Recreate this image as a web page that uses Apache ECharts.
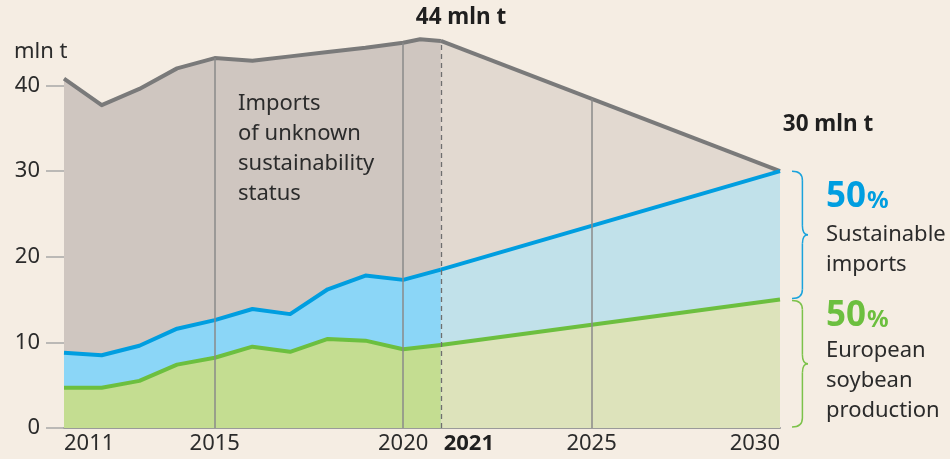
<!DOCTYPE html>
<html>
<head>
<meta charset="utf-8">
<title>Soybean imports</title>
<script src="https://cdn.jsdelivr.net/npm/echarts/dist/echarts.min.js"></script>
<style>
  html, body { margin: 0; padding: 0; background: #f5ede3; }
  #box { width: 950px; height: 459px; }
</style>
</head>
<body>
<div id="box"></div>
<script>
// historical years
var years = [2011, 2012, 2013, 2014, 2015, 2016, 2017, 2018, 2019, 2020, 2021];
// total imports + production (top grey line), includes the small peak before 2021
var topYears = [2011, 2012, 2013, 2014, 2015, 2016, 2017, 2018, 2019, 2020, 2020.45, 2021];
var topHist = [40.8, 37.7, 39.6, 42.0, 43.2, 42.9, 43.4, 43.9, 44.4, 45.0, 45.4, 45.2];
var blueHist = [8.8, 8.5, 9.6, 11.6, 12.6, 13.9, 13.3, 16.2, 17.8, 17.3, 18.5];
var greenHist = [4.7, 4.7, 5.5, 7.4, 8.2, 9.5, 8.9, 10.4, 10.2, 9.2, 9.7];
// projection
var projYears = [2021, 2030];
var topProj = [45.2, 30];
var blueProj = [18.5, 30];
var greenProj = [9.7, 15];

var xTicks = [2011, 2015, 2020, 2021, 2025, 2030];
var yTicks = [0, 10, 20, 30, 40];
var guideYears = [2015, 2020, 2025];

var FONT = 'Noto Sans';

function pairs(xs, ys) {
    return xs.map(function (x, i) { return [x, ys[i]]; });
}

var topAll = pairs(topYears, topHist).concat(pairs(projYears, topProj).slice(1));
// height of the grey line at a given year (for the vertical guides)
function topAt(yr) {
    for (var i = 0; i < topAll.length - 1; i++) {
        var a = topAll[i], b = topAll[i + 1];
        if (yr >= a[0] && yr <= b[0]) {
            return a[1] + (b[1] - a[1]) * (yr - a[0]) / (b[0] - a[0]);
        }
    }
    return 0;
}

function areaSeries(data, lineColor, fill, z) {
    return {
        type: 'line',
        data: data,
        symbol: 'none',
        z: z,
        silent: true,
        lineStyle: { color: lineColor, width: 4, join: 'round' },
        areaStyle: { color: fill, opacity: 1, origin: 'start' }
    };
}

var grey = '#7a7a7a', blue = '#009ee0', green = '#6cbf3f';

var guideLines = guideYears.map(function (yr) {
    return [{ coord: [yr, 0] }, { coord: [yr, topAt(yr)] }];
});
guideLines.push([
    { coord: [2021, 0], lineStyle: { type: [5, 4], color: '#6f6f6f', width: 1.3 } },
    { coord: [2021, topAt(2021)] }
]);

var myChart = echarts.init(document.getElementById('box'));
var option = {
    backgroundColor: '#f5ede3',
    animation: false,
    textStyle: { fontFamily: FONT },
    grid: { left: 64, right: 170, top: 17, bottom: 31 },
    xAxis: {
        type: 'value',
        min: 2011,
        max: 2030,
        splitLine: { show: false },
        axisTick: { show: false },
        axisLine: { lineStyle: { color: '#9a9a9a', width: 2 } },
        axisLabel: {
            customValues: xTicks,
            color: '#2b2b2b',
            fontSize: 22,
            fontFamily: FONT,
            margin: 5,
            alignMinLabel: 'left',
            alignMaxLabel: 'right',
            formatter: function (v) {
                return v === 2021 ? '{b|2021}' : String(v);
            },
            rich: {
                b: { fontWeight: 'bold', fontSize: 22, color: '#1f1f1f', padding: [0, 0, 0, 56], fontFamily: FONT }
            }
        }
    },
    yAxis: {
        type: 'value',
        min: 0,
        max: 48,
        splitLine: { show: false },
        axisLine: { show: false },
        axisTick: { show: true, customValues: yTicks, length: 18, lineStyle: { color: '#a8a8a8', width: 1.5 } },
        axisLabel: { customValues: yTicks, color: '#2b2b2b', fontSize: 22, fontFamily: FONT, margin: 24 }
    },
    series: [
        areaSeries(pairs(topYears, topHist), grey, '#cfc6c0', 2),
        areaSeries(pairs(projYears, topProj), grey, '#e2d9d0', 2),
        areaSeries(pairs(years, blueHist), blue, '#8bd6f7', 3),
        areaSeries(pairs(projYears, blueProj), blue, '#c1e1ea', 3),
        areaSeries(pairs(years, greenHist), green, '#c4dd91', 4),
        areaSeries(pairs(projYears, greenProj), green, '#dde3bb', 4),
        {
            type: 'line',
            data: [],
            silent: true,
            markLine: {
                silent: true,
                symbol: 'none',
                label: { show: false },
                lineStyle: { color: '#8a8a8a', width: 1.5, type: 'solid' },
                data: guideLines
            }
        }
    ]
};
myChart.setOption(option);

// curly brace built from quadratic curves and straight lines
function brace(x, y1, y2, w, color) {
    var m = (y1 + y2) / 2, c = x + w * 0.65, r = 9;
    var st = { stroke: color, lineWidth: 1.5, fill: null };
    function curve(x1, yy1, cx, cy, x2, yy2) {
        return { type: 'bezierCurve', silent: true, z: 100, style: st,
                 shape: { x1: x1, y1: yy1, cpx1: cx, cpy1: cy, x2: x2, y2: yy2 } };
    }
    function line(yy1, yy2) {
        return { type: 'line', silent: true, z: 100, style: st,
                 shape: { x1: c, y1: yy1, x2: c, y2: yy2 } };
    }
    return [
        curve(x, y1, c, y1, c, y1 + r),
        line(y1 + r, m - r),
        curve(c, m - r, c, m, x + w, m),
        curve(x + w, m, c, m, c, m + r),
        line(m + r, y2 - r),
        curve(c, y2 - r, c, y2, x, y2)
    ];
}
var p30 = myChart.convertToPixel({ gridIndex: 0 }, [2030, 30]);
var p15 = myChart.convertToPixel({ gridIndex: 0 }, [2030, 15]);
var p0 = myChart.convertToPixel({ gridIndex: 0 }, [2030, 0]);
var bx = p30[0] + 12;

function txt(x, y, text, extra) {
    var s = { x: x, y: y, text: text, fill: '#2b2b2b', fontSize: 22, fontFamily: FONT, verticalAlign: 'middle' };
    for (var k in extra) s[k] = extra[k];
    return { type: 'text', z: 100, silent: true, style: s };
}
function pct(y, color) {
    return {
        type: 'text', z: 100, silent: true,
        style: {
            x: 826, y: y, verticalAlign: 'middle',
            text: '{a|50}{b|%}',
            rich: {
                a: { fontSize: 35, fontWeight: 'bold', fill: color, fontFamily: FONT },
                b: { fontSize: 24, fontWeight: 'bold', fill: color, fontFamily: FONT, padding: [9, 0, 0, 1] }
            }
        }
    };
}

var graphics = []
    .concat(brace(bx, p30[1], p15[1] - 1, 16, '#1aa3dc'))
    .concat(brace(bx, p15[1] + 1, p0[1] - 1, 16, '#7cc24a'))
    .concat([
        txt(14, 52, 'mln t'),
        txt(238, 104, 'Imports'),
        txt(238, 134, 'of unknown'),
        txt(238, 164, 'sustainability'),
        txt(238, 194, 'status'),
        txt(461, 18, '44 mln t', { fontWeight: 'bold', align: 'center', fill: '#1f1f1f', fontSize: 22.5 }),
        txt(828, 125, '30 mln t', { fontWeight: 'bold', align: 'center', fill: '#1f1f1f', fontSize: 22.5 }),
        pct(197, blue),
        txt(826, 235, 'Sustainable'),
        txt(826, 265, 'imports'),
        pct(316, green),
        txt(826, 351, 'European'),
        txt(826, 381, 'soybean'),
        txt(826, 411, 'production')
    ]);

myChart.setOption({ graphic: graphics });
</script>
</body>
</html>
